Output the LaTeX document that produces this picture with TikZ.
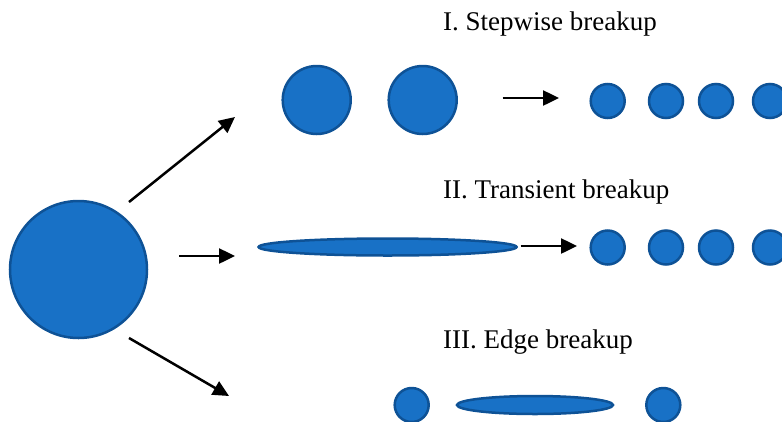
\documentclass[tikz,border=0pt]{standalone}
\usepackage{fontspec}
\setmainfont{Liberation Serif}
\usetikzlibrary{arrows.meta,shapes.geometric}
\definecolor{dropfill}{RGB}{24,113,198}
\definecolor{dropedge}{RGB}{14,82,150}
\tikzset{
  drop/.style={circle,draw=dropedge,fill=dropfill,line width=2.5pt,inner sep=0pt,minimum size=#1},
  flat/.style={ellipse,draw=dropedge,fill=dropfill,line width=2.5pt,inner sep=0pt,minimum width=#1,minimum height=17pt},
  arr/.style={line width=2.5pt,-{Triangle[length=16pt,width=15pt]}},
  lbl/.style={anchor=base west,inner sep=0pt,font=\fontsize{27}{31}\selectfont}
}
\begin{document}
\begin{tikzpicture}[x=1pt,y=-1pt]
\useasboundingbox (0,0) rectangle (782,421);
\clip (0,0) rectangle (782,421);
% parent drop
\node[drop=137pt] (big) at (78.5,269.5) {};
% branch arrows
\coordinate (a1s) at (129,202); \coordinate (a1e) at (235,117);
\coordinate (a2s) at (179,256); \coordinate (a2e) at (235,256);
\coordinate (a3s) at (129,338); \coordinate (a3e) at (229,396);
\draw[arr] (a1s) -- (a1e);
\draw[arr] (a2s) -- (a2e);
\draw[arr] (a3s) -- (a3e);
% labels
\node[lbl] (l1) at (443,30) {I. Stepwise breakup};
\node[lbl] (l2) at (443,198) {II. Transient breakup};
\node[lbl] (l3) at (443,348) {III. Edge breakup};
% row I
\node[drop=68pt] (s1) at (316.7,100) {};
\node[drop=68pt] (s2) at (422.7,100) {};
\coordinate (r1s) at (502.7,98); \coordinate (r1e) at (559,98);
\draw[arr] (r1s) -- (r1e);
\node[drop=34pt] (p1) at (607.7,101) {};
\node[drop=34pt] (p2) at (666,101) {};
\node[drop=34pt] (p3) at (716,101) {};
\node[drop=34pt] (p4) at (770,101) {};
% row II
\node[flat=258pt] (e1) at (387.6,247) {};
\coordinate (r2s) at (520.5,246); \coordinate (r2e) at (577,246);
\draw[arr] (r2s) -- (r2e);
\node[drop=34pt] (q1) at (607.7,247.5) {};
\node[drop=34pt] (q2) at (666,247.5) {};
\node[drop=34pt] (q3) at (716,247.5) {};
\node[drop=34pt] (q4) at (770,247.5) {};
% row III
\node[drop=34pt] (t1) at (411.7,405) {};
\node[flat=156pt,minimum height=18pt] (e2) at (535,405) {};
\node[drop=34pt] (t2) at (663.3,405) {};
\end{tikzpicture}
\end{document}
